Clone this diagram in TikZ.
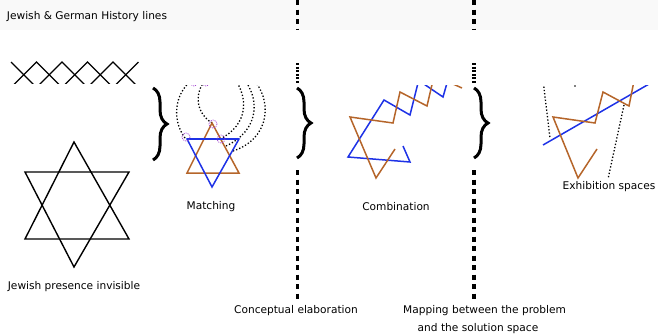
\documentclass[tikz,border=0pt]{standalone}
\usepackage{fontspec}
\setmainfont{DejaVu Sans}
\usetikzlibrary{decorations.pathreplacing}
\definecolor{orng}{HTML}{B5652A}
\definecolor{blu}{HTML}{1E32E6}
\definecolor{purp}{HTML}{9933CC}
\definecolor{band}{HTML}{F9F9F9}
\tikzset{
  lbl/.style={inner sep=0pt,font=\fontsize{10.6}{12}\selectfont},
  starline/.style={line width=1.4pt,black,line join=miter},
  oline/.style={line width=1.5pt,orng},
  bline/.style={line width=1.5pt,blu},
  dotcurve/.style={line width=1.3pt,dash pattern=on 1.3pt off 2pt},
  purpring/.style={purp,line width=0.7pt,dash pattern=on 1pt off 1pt},
  bigbrace/.style={decorate,decoration={brace,amplitude=14pt},line width=3pt},
  thickdash/.style={line width=3.5pt,dash pattern=on 5pt off 4.5pt},
  finedash/.style={line width=3.5pt,dash pattern=on 2pt off 1.6pt}
}
\begin{document}
\begin{tikzpicture}[x=1pt,y=-1pt]
\useasboundingbox (0,0) rectangle (658,335);
\fill[band] (0,0) rectangle (658,30);
% title
\node[lbl] (title) at (87,17) {Jewish \& German History lines};
% zigzag crossing lines
\begin{scope}
\clip (0,55) rectangle (150,83);
\draw[line width=1.3pt] (11,62) -- (36.5,87.5) -- (62,62) -- (87.5,87.5) -- (113,62) -- (138.5,87.5);
\draw[line width=1.3pt] (11,87.5) -- (36.5,62) -- (62,87.5) -- (87.5,62) -- (113,87.5) -- (138.5,62);
\end{scope}
% black star
\draw[starline] (74,142) -- (25,239) -- (129,239) -- cycle;
\draw[starline] (74,267) -- (25,172) -- (129,172) -- cycle;
\begin{scope}
\clip (0,270) rectangle (160,292.5);
\node[lbl] (jpi) at (74,287) {Jewish presence invisible};
\end{scope}
% vertical dividers
\foreach \xx in {297.5,474} {
  \draw[thickdash] (\xx,0) -- (\xx,29);
  \draw[finedash] (\xx,63) -- (\xx,84);
  \draw[thickdash] (\xx,170) -- (\xx,303);
}
% braces
\draw[bigbrace] (153,88) -- (153,160);
\draw[bigbrace] (297,88) -- (297,158);
\draw[bigbrace] (474,88) -- (474,158);
% matching
\begin{scope}
\clip (140,85) rectangle (658,335);
\draw[dotcurve] (185,138) .. controls (170,118) and (176,88) .. (196,78);
\draw[dotcurve] (212,123) .. controls (195,112) and (194,92) .. (207,78);
\draw[dotcurve] (220,139) .. controls (248,125) and (249,98) .. (234,78);
\draw[dotcurve] (226,146) .. controls (260,130) and (260,98) .. (243,78);
\draw[dotcurve] (233,151) .. controls (272,138) and (272,98) .. (252,78);
\draw[purpring] (194,82) circle (4);
\draw[purpring] (206,82) circle (4);
% combination
\draw[bline] (403,146) -- (410,162) -- (348,157) -- (384,100) -- (410,115) -- (420,75);
\draw[bline] (418,80) -- (443,97) -- (449,76);
\draw[oline] (395,149) -- (376,178) -- (350,117) -- (393,123) -- (400,92) -- (427,106) -- (434,76);
\draw[oline] (444,80) -- (462,88);
% exhibition
\draw[dotcurve] (543,80) -- (550,138);
\draw[dotcurve] (624,105) -- (608,179);
\fill (575,86) circle (0.8);
\draw[bline] (543,145) -- (656,80);
\draw[oline] (597,149) -- (578,178) -- (553,117) -- (595,123) -- (603,92) -- (629,106) -- (635,76);
\end{scope}
\draw[oline] (212,123) -- (187,173) -- (239,173) -- cycle;
\draw[bline] (212,187) -- (187,139) -- (239,139) -- cycle;
\draw[blu,line width=2.2pt] (187,139) -- (239,139);
\draw[purpring] (186,137) circle (4);
\draw[purpring] (213,124) circle (4);
\draw[purpring] (221,139) circle (4);
% labels
\node[lbl] (matching) at (211,207) {Matching};
\node[lbl] (combination) at (396,207) {Combination};
\node[lbl] (exhib) at (609,187) {Exhibition spaces};
\node[lbl] (concept) at (296,311) {Conceptual elaboration};
\node[lbl,anchor=west] (mapping) at (403,311) {Mapping between the problem};
\node[lbl] (solution) at (478,329) {and the solution space};
\end{tikzpicture}
\end{document}
